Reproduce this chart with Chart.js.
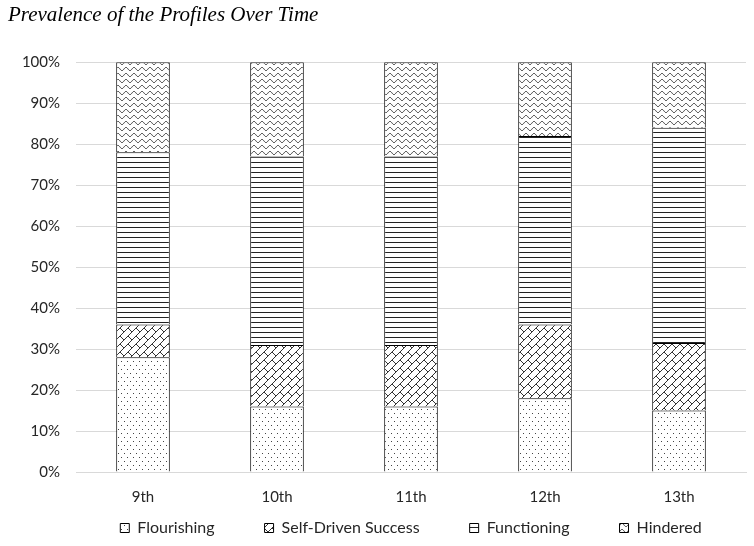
<!DOCTYPE html>
<html><head><meta charset="utf-8">
<script src="https://cdn.jsdelivr.net/npm/chart.js@4"></script>
<style>html,body{margin:0;padding:0;background:#fff}</style>
</head><body>
<canvas id="c" width="754" height="546"></canvas>
<script>
const categories = ['9th', '10th', '11th', '12th', '13th'];
const seriesNames = ['Flourishing', 'Self-Driven Success', 'Functioning', 'Hindered'];
const flourishing = [28, 16, 16, 18, 15];
const selfDriven = [8, 15, 15, 18, 16.5];
const functioning = [42, 46, 46, 46, 52.5];
const hindered = [22, 23, 23, 18, 16];
const titleText = 'Prevalence of the Profiles Over Time';

function makePattern(w, h, draw) {
  const c = document.createElement('canvas');
  c.width = w; c.height = h;
  const x = c.getContext('2d');
  x.fillStyle = '#fff'; x.fillRect(0, 0, w, h);
  draw(x);
  return x.createPattern(c, 'repeat');
}
const dotsPat = makePattern(6, 8, x => {
  x.fillStyle = '#444';
  x.fillRect(1, 1, 1, 1); x.fillRect(4, 5, 1, 1);
});
const weavePat = makePattern(8, 8, x => {
  x.strokeStyle = '#333'; x.lineWidth = 1;
  x.beginPath();
  x.moveTo(-1, 9); x.lineTo(9, -1);
  x.moveTo(-1, 1); x.lineTo(1, -1);
  x.moveTo(7, 9); x.lineTo(9, 7);
  x.moveTo(0, 0); x.lineTo(4, 4);
  x.stroke();
});
const linesPat = makePattern(4, 5, x => {
  x.fillStyle = '#222'; x.fillRect(0, 2, 4, 1);
});
const wavePat = makePattern(8, 6, x => {
  x.strokeStyle = '#333'; x.lineWidth = 1;
  x.beginPath();
  for (let i = -1; i <= 9; i += 0.5) {
    const y = 3 + 1.6 * Math.sin(2 * Math.PI * i / 8);
    if (i === -1) x.moveTo(i, y); else x.lineTo(i, y);
  }
  x.stroke();
});

const legendFix = {
  id: 'legendFix',
  afterInit(chart) {
    const lg = chart.legend;
    if (!lg) return;
    const p0 = -2;
    const of = lg.fit;
    lg.fit = function () {
      const mw = this.maxWidth;
      this.maxWidth = 4000;
      of.call(this);
      this.maxWidth = mw;
      this.width = mw;
      this.height -= (this.options.labels.padding - p0);
    };
    const od = lg.draw;
    lg.draw = function () {
      const t = this.top, l = this.left, r = this.right, D = 1000;
      this.top -= (this.options.labels.padding - p0);
      this.left -= D; this.right += D;
      od.call(this);
      this.top = t; this.left = l; this.right = r;
    };
  }
};

const ds = (label, data, bg) => ({
  label, data, backgroundColor: bg, borderColor: '#000', borderWidth: 1,
  categoryPercentage: 1, barPercentage: 0.4
});

new Chart(document.getElementById('c'), {
  type: 'bar',
  data: {
    labels: categories,
    datasets: [
      ds(seriesNames[0], flourishing, dotsPat),
      ds(seriesNames[1], selfDriven, weavePat),
      ds(seriesNames[2], functioning, linesPat),
      ds(seriesNames[3], hindered, wavePat)
    ]
  },
  options: {
    responsive: false,
    animation: false,
    layout: { padding: { left: 8, right: 8, top: 0, bottom: 0 } },
    scales: {
      x: {
        stacked: true,
        grid: { display: false, drawTicks: false },
        border: { display: true, color: '#d9d9d9' },
        ticks: { color: '#262626', font: { family: 'Lato', size: 15 }, padding: 16 }
      },
      y: {
        stacked: true, min: 0, max: 100,
        afterFit: s => { s.width = 68; },
        grid: { color: '#d9d9d9', drawTicks: false },
        border: { display: false },
        ticks: { stepSize: 10, color: '#262626', font: { family: 'Lato', size: 15 }, padding: 16,
                 callback: v => v + '%' }
      }
    },
    plugins: {
      tooltip: { enabled: false },
      title: {
        display: true, text: titleText, align: 'start', color: '#000',
        font: { family: 'Liberation Serif', style: 'italic', size: 21, weight: 'normal' },
        padding: { top: 3, bottom: 34 }
      },
      legend: {
        position: 'bottom', fullSize: false,
        labels: { boxWidth: 9, boxHeight: 9, padding: 50, color: '#262626',
                  font: { family: 'Lato', size: 16 } }
      }
    }
  },
  plugins: [legendFix]
});
</script>
</body></html>
